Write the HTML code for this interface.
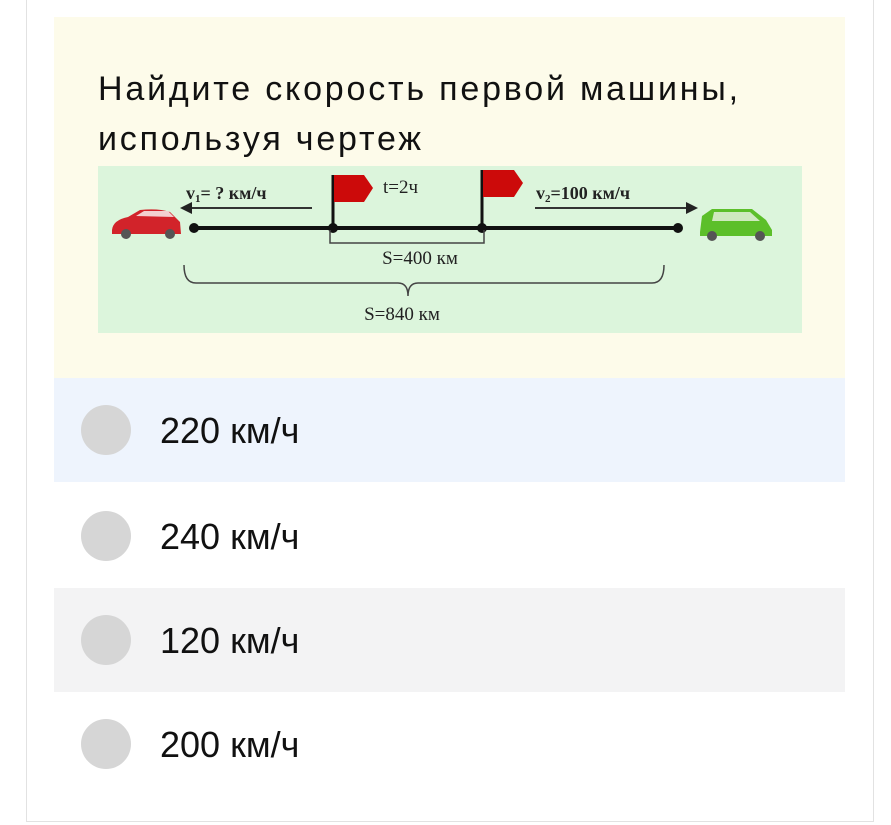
<!DOCTYPE html>
<html><head><meta charset="utf-8"><style>
body{margin:0;width:891px;height:825px;background:#fff;position:relative;overflow:hidden;font-family:"Liberation Sans","DejaVu Sans",sans-serif}
.frame{position:absolute;left:26px;top:-2px;width:848px;height:824px;border:1px solid #e2e2e2;box-sizing:border-box}
.q{position:absolute;left:54px;top:17px;width:791px;height:361px;background:#fdfbea}
.title{position:absolute;left:98px;top:64px;font-size:34px;line-height:50px;letter-spacing:2.8px;color:#111;white-space:nowrap}
.row{position:absolute;left:54px;width:791px;height:104px}
.row .c{position:absolute;left:27px;top:27px;width:50px;height:50px;border-radius:50%;background:#d6d6d6}
.row .t{position:absolute;left:106px;top:33px;font-size:36px;line-height:40px;color:#111}
</style></head><body>
<div class="frame"></div>
<div class="q"></div>
<div class="title">Найдите скорость первой машины,<br>используя чертеж</div>
<svg style="position:absolute;left:0;top:0" width="891" height="825">
<rect x="98" y="166" width="704" height="167" fill="#dcf5dc"/>
<g font-family="Liberation Serif,serif" font-weight="bold" fill="#222">
<text x="186" y="199" font-size="18">v<tspan font-size="11" dy="3">1</tspan><tspan dy="-3">= ? км/ч</tspan></text>
<text x="383" y="193" font-size="19" font-weight="normal">t=2ч</text>
<text x="536" y="199" font-size="18">v<tspan font-size="11" dy="3">2</tspan><tspan dy="-3">=100 км/ч</tspan></text>
<text x="420" y="264" font-size="19" font-weight="normal" text-anchor="middle">S=400 км</text>
<text x="402" y="320" font-size="19" font-weight="normal" text-anchor="middle">S=840 км</text>
</g>
<line x1="186" y1="208" x2="312" y2="208" stroke="#333" stroke-width="2"/>
<polygon points="180,208 192,202 192,214" fill="#222"/>
<line x1="535" y1="208" x2="690" y2="208" stroke="#333" stroke-width="2"/>
<polygon points="698,208 686,202 686,214" fill="#222"/>
<line x1="194" y1="228" x2="678" y2="228" stroke="#111" stroke-width="4"/>
<circle cx="194" cy="228" r="5" fill="#111"/><circle cx="333" cy="228" r="5" fill="#111"/>
<circle cx="482" cy="228" r="5" fill="#111"/><circle cx="678" cy="228" r="5" fill="#111"/>
<line x1="333" y1="175" x2="333" y2="228" stroke="#111" stroke-width="3"/>
<polygon points="334,175 364,175 373,188 364,202 334,202" fill="#cc0a0a"/>
<line x1="482" y1="170" x2="482" y2="228" stroke="#111" stroke-width="3"/>
<polygon points="483,170 514,170 523,183 514,197 483,197" fill="#cc0a0a"/>
<polyline points="330,230 330,243 484,243 484,230" fill="none" stroke="#444" stroke-width="1.5"/>
<path d="M184,265 Q184,283 196,283 L398,283 Q408,283 408,296 Q408,283 418,283 L652,283 Q664,283 664,265" fill="none" stroke="#444" stroke-width="1.5"/>
<g fill="#d2232a"><path d="M112,230 Q113,220 128,217 L140,210 Q158,208 170,212 L180,222 L181,234 L112,234Z"/></g>
<circle cx="126" cy="234" r="5" fill="#555"/><circle cx="170" cy="234" r="5" fill="#555"/>
<path d="M136,216 L144,211 L168,211 L174,217Z" fill="#f3d0d0"/>
<path d="M700,232 L702,216 L712,209 L752,209 L766,220 L772,230 L772,236 L700,236Z" fill="#5cbf2a"/>
<path d="M714,212 L750,212 L760,221 L712,221Z" fill="#cfe9c0"/>
<circle cx="712" cy="236" r="5" fill="#555"/><circle cx="760" cy="236" r="5" fill="#555"/>
</svg>
<div class="row" style="top:378px;background:#eef4fd"><div class="c"></div><div class="t">220 км/ч</div></div>
<div class="row" style="top:484px;background:#fff"><div class="c"></div><div class="t">240 км/ч</div></div>
<div class="row" style="top:588px;background:#f3f3f4"><div class="c"></div><div class="t">120 км/ч</div></div>
<div class="row" style="top:692px;background:#fff"><div class="c"></div><div class="t">200 км/ч</div></div>
</body></html>
